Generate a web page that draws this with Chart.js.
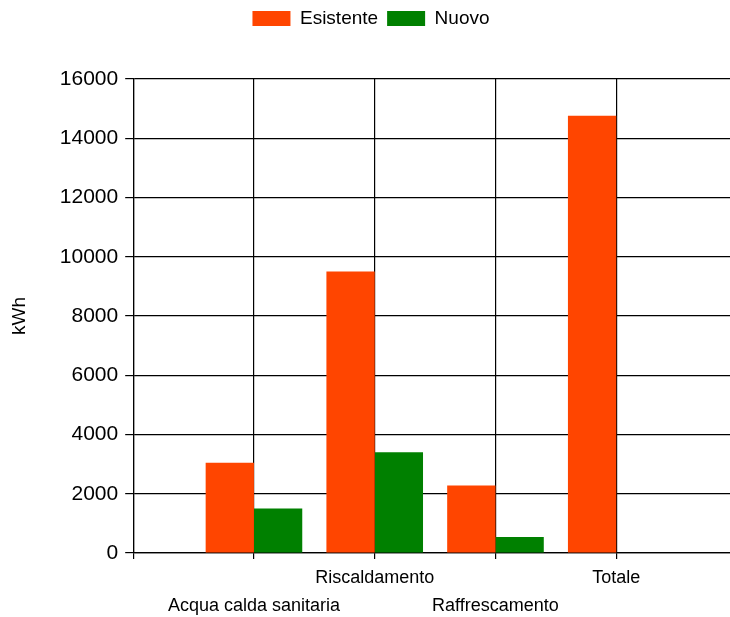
<!DOCTYPE html>
<html>
<head>
<meta charset="utf-8">
<script src="https://cdn.jsdelivr.net/npm/chart.js@4/dist/chart.umd.min.js"></script>
<style>
  html, body { margin: 0; padding: 0; background: #fff; overflow: hidden; }
  #wrap { width: 742px; height: 617px; }
</style>
</head>
<body>
<div id="wrap"><canvas id="chart"></canvas></div>
<script>
// Data (blank slots at both ends keep the axis 0..5)
const categories = ['', 'Acqua calda sanitaria', 'Riscaldamento', 'Raffrescamento', 'Totale', ''];
const esistente = [null, 3050, 9500, 2280, 14760, null];
const nuovo = [null, 1500, 3400, 540, 0, null];
const yTicks = [0, 2000, 4000, 6000, 8000, 10000, 12000, 14000, 16000];

const FONT = '"Liberation Sans", Arial, sans-serif';

// Push the plot area down below the legend
const legendGap = {
    id: 'legendGap',
    beforeInit(chart) {
        const fit = chart.legend.fit;
        chart.legend.fit = function() {
            fit.bind(chart.legend)();
            this.height = 79;
        };
    }
};

const ctx = document.getElementById('chart').getContext('2d');
new Chart(ctx, {
    type: 'bar',
    data: {
        labels: categories,
        datasets: [{
            label: 'Esistente',
            data: esistente,
            backgroundColor: '#FF4500'
        }, {
            label: 'Nuovo',
            data: nuovo,
            backgroundColor: '#008000'
        }]
    },
    options: {
        responsive: true,
        maintainAspectRatio: false,
        animation: false,
        layout: { padding: { left: 0, right: 0, top: 0, bottom: -8 } },
        datasets: {
            bar: { categoryPercentage: 0.8, barPercentage: 1.0 }
        },
        plugins: {
            legend: {
                position: 'top',
                labels: {
                    boxWidth: 38,
                    boxHeight: 15,
                    padding: 9,
                    color: '#000',
                    font: { family: FONT, size: 19 }
                }
            },
            tooltip: { enabled: false }
        },
        scales: {
            x: {
                offset: false,
                grid: {
                    offset: false,
                    color: '#000',
                    lineWidth: 1.2,
                    tickLength: 6
                },
                border: { color: '#000', width: 1.2 },
                ticks: {
                    autoSkip: false,
                    maxRotation: 0,
                    minRotation: 0,
                    padding: 5,
                    color: '#000',
                    font: { family: FONT, size: 18, lineHeight: '28px' },
                    callback: function(value, index) {
                        const label = categories[index];
                        // stagger the labels on two rows
                        return index % 2 === 1 ? ['', label] : label;
                    }
                }
            },
            y: {
                min: 0,
                max: 16000,
                afterBuildTicks: function(axis) {
                    axis.ticks = yTicks.map(v => ({ value: v }));
                },
                grid: {
                    color: '#000',
                    lineWidth: 1.2,
                    tickLength: 8
                },
                border: { color: '#000', width: 1.2 },
                ticks: {
                    padding: 7,
                    color: '#000',
                    font: { family: FONT, size: 21 },
                    callback: function(value) {
                        return String(value);
                    }
                },
                title: {
                    display: true,
                    text: 'kWh',
                    color: '#000',
                    font: { family: FONT, size: 19 },
                    padding: { top: 8, bottom: 22 }
                }
            }
        }
    },
    plugins: [legendGap]
});
</script>
</body>
</html>
